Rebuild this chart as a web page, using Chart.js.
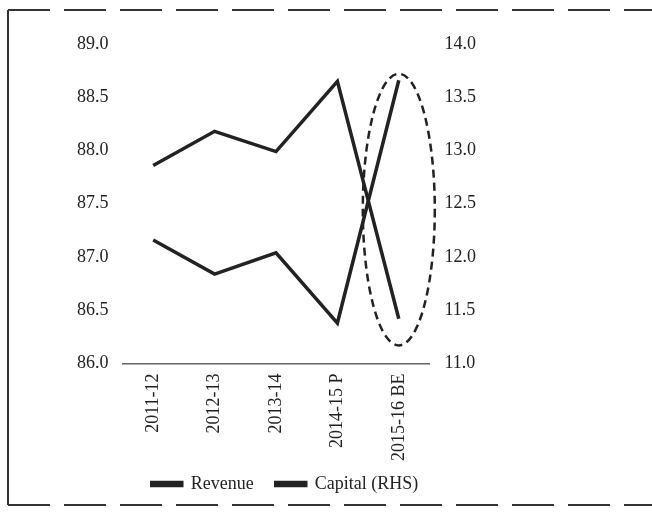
<!DOCTYPE html>
<html>
<head>
<meta charset="utf-8">
<script src="https://cdn.jsdelivr.net/npm/chart.js@4/dist/chart.umd.min.js"></script>
<style>
  html, body { margin: 0; padding: 0; background: #fff; }
  canvas { display: block; }
</style>
</head>
<body>
<canvas id="chart" width="652" height="512"></canvas>
<script>
"use strict";

// data
const years = ["2011-12", "2012-13", "2013-14", "2014-15 P", "2015-16 BE"];
const revenue = [87.86, 88.18, 87.99, 88.65, 86.42];
const capital = [12.16, 11.84, 12.04, 11.38, 13.66];

const leftTicks = [86.0, 86.5, 87.0, 87.5, 88.0, 88.5, 89.0];
const rightTicks = [11.0, 11.5, 12.0, 12.5, 13.0, 13.5, 14.0];

const ink = "#222";
const font = { family: "'Liberation Serif', 'DejaVu Serif', serif", size: 18 };

// dashed ellipse round the last year + scanned frame
const annotate = {
    id: "annotate",
    afterLayout(chart) {
        // legend sits a bit right of centre in the scan
        chart.legend.left += 8;
        chart.legend.right += 8;
        // the year labels run a little into the legend band, don't clip them
        chart.scales.x._computeLabelArea = () => undefined;
    },
    afterDatasetsDraw(chart) {
        const c = chart.ctx;
        const x = chart.scales.x;
        const y = chart.scales.y;
        const cx = x.getPixelForValue(years.length - 1);
        const top = y.getPixelForValue(88.72);
        const bottom = y.getPixelForValue(86.17);
        c.save();
        c.strokeStyle = ink;
        c.lineWidth = 2.5;
        c.setLineDash([8, 5]);
        c.beginPath();
        c.ellipse(cx, (top + bottom) / 2, 36, (bottom - top) / 2, 0, 0, Math.PI * 2);
        c.stroke();
        c.restore();
    },
    afterDraw(chart) {
        const c = chart.ctx;
        c.save();
        c.strokeStyle = "#333";
        c.lineWidth = 2;
        c.beginPath();
        c.moveTo(8, 10);
        c.lineTo(8, 505);
        c.stroke();
        c.setLineDash([42, 14]);
        c.beginPath();
        c.moveTo(8, 10);
        c.lineTo(652, 10);
        c.moveTo(8, 505);
        c.lineTo(652, 505);
        c.stroke();
        c.restore();
    }
};

new Chart(document.getElementById("chart").getContext("2d"), {
    type: "line",
    data: {
        labels: years,
        datasets: [
            {
                label: "Revenue",
                data: revenue,
                yAxisID: "y",
                borderColor: ink,
                backgroundColor: ink,
                borderWidth: 3.5,
                pointRadius: 0,
                tension: 0
            },
            {
                label: "Capital (RHS)",
                data: capital,
                yAxisID: "y2",
                borderColor: ink,
                backgroundColor: ink,
                borderWidth: 3.5,
                pointRadius: 0,
                tension: 0
            }
        ]
    },
    options: {
        responsive: false,
        animation: false,
        layout: { padding: { left: 63, right: 161, top: 44, bottom: 9 } },
        scales: {
            x: {
                offset: true,
                grid: { display: false, drawTicks: false },
                border: { display: true, color: "#666", width: 1.5, dash: [14, 4] },
                ticks: {
                    color: ink, font: font, padding: 10,
                    minRotation: 90, maxRotation: 90, autoSkip: false
                },
                afterFit: axis => { axis.height -= 18; }
            },
            y: {
                position: "left",
                min: 86, max: 89,
                grid: { display: false, drawTicks: false },
                border: { display: false },
                afterBuildTicks: axis => { axis.ticks = leftTicks.map(v => ({ value: v })); },
                ticks: { color: ink, font: font, padding: 14, callback: v => v.toFixed(1) }
            },
            y2: {
                position: "right",
                min: 11, max: 14,
                grid: { display: false, drawTicks: false },
                border: { display: false },
                afterBuildTicks: axis => { axis.ticks = rightTicks.map(v => ({ value: v })); },
                ticks: { color: ink, font: font, padding: 15, callback: v => v.toFixed(1) }
            }
        },
        plugins: {
            legend: {
                position: "bottom",
                labels: { color: ink, font: font, boxWidth: 30, boxHeight: 3, padding: 22 }
            },
            tooltip: { enabled: false }
        }
    },
    plugins: [annotate]
});
</script>
</body>
</html>
